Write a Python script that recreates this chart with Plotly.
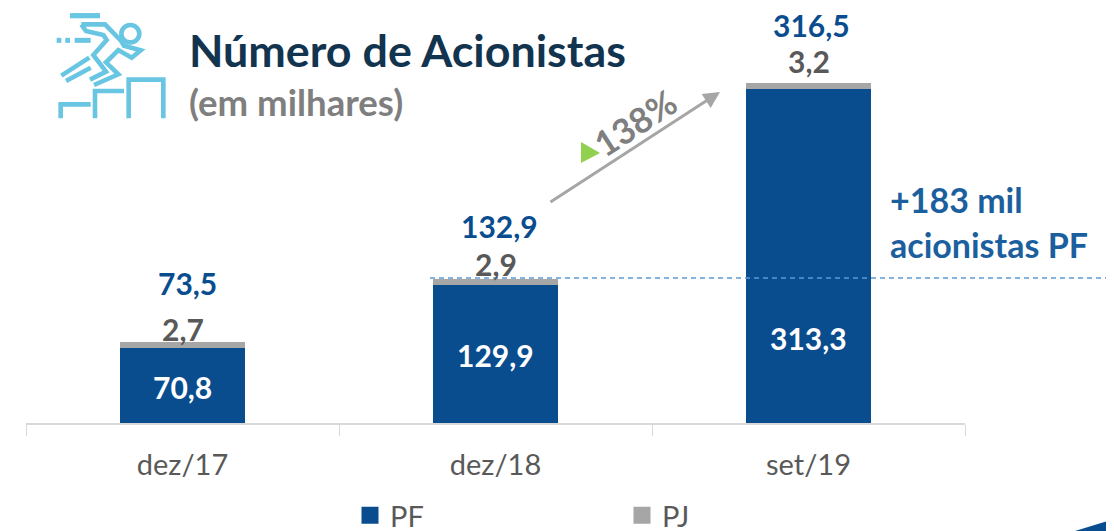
import plotly.graph_objects as go

# The page body keeps an 8px margin, so the figure is 8px smaller than the window on each side
# and every reference pixel position is converted with that offset.
PAGE_W, PAGE_H = 1114, 531
OFF = 8
W, H = PAGE_W - OFF, PAGE_H - OFF
FONT = "Lato"

categories = ["dez/17", "dez/18", "set/19"]
pf_values = [70.8, 129.9, 313.3]
pj_values = [2.7, 2.9, 3.2]
total_values = [73.5, 132.9, 316.5]
pf_labels = ["70,8", "129,9", "313,3"]
pj_labels = ["2,7", "2,9", "3,2"]
total_labels = ["73,5", "132,9", "316,5"]
# offsets of the data labels, in px from the bar top
pf_label_shift = [-42, -73, -252]
pj_label_shift = [16, 18, 25]
total_label_shift = [62, 56, 61]
total_label_xshift = [5, 4, 3]

BLUE = "#0A4D8F"
GRAY = "#A6A6A6"
DARK = "#595959"
ICON = "#68C6E3"


def px(x):
    return (x - OFF) / W


def py(y):
    return 1 - (y - OFF) / H


def path(points, close=False):
    s = "M" + " L".join(f"{px(x)},{py(y)}" for x, y in points)
    return s + (" Z" if close else "")


def icon_pt(zx, zy):
    return (50 + zx / 3, 5 + zy / 3)


def icon_line(zpts, width=4.6):
    return dict(type="path", xref="paper", yref="paper",
                path=path([icon_pt(*p) for p in zpts]),
                line=dict(color=ICON, width=width), fillcolor="rgba(0,0,0,0)", layer="above")


fig = go.Figure()
fig.add_bar(name="PF", x=categories, y=pf_values, marker=dict(color=BLUE, line=dict(width=0)),
            legendgroup="PF", showlegend=False)
fig.add_bar(name="PJ", x=categories, y=pj_values, marker=dict(color=GRAY, line=dict(width=0)),
            legendgroup="PJ", showlegend=False)
# zero-height entries that only carry the larger legend swatches
fig.add_bar(name="PF", x=categories, y=[0, 0, 0], legendgroup="PF",
            marker=dict(color=BLUE, line=dict(color=BLUE, width=5)))
fig.add_bar(name="PJ", x=categories, y=[0, 0, 0], legendgroup="PJ",
            marker=dict(color=GRAY, line=dict(color=GRAY, width=5)))

annotations = []


def label(x, y, text, shift, color, xshift=0):
    annotations.append(dict(x=x, y=y, xref="x", yref="y", text=f"<b>{text}</b>", showarrow=False,
                            yshift=shift, xshift=xshift, xanchor="center", yanchor="middle",
                            font=dict(family=FONT, size=30, color=color)))


for i, c in enumerate(categories):
    top = pf_values[i] + pj_values[i]
    label(c, top, pf_labels[i], pf_label_shift[i], "#FFFFFF")
    label(c, top, pj_labels[i], pj_label_shift[i], DARK)
    label(c, top, total_labels[i], total_label_shift[i], BLUE, total_label_xshift[i])


def text(x, y, s, size, color, anchor="left", angle=0):
    annotations.append(dict(x=px(x), y=py(y), xref="paper", yref="paper", text=s, showarrow=False,
                            xanchor=anchor, yanchor="middle", textangle=angle,
                            font=dict(family=FONT, size=size, color=color)))


text(187, 50, "<b>Número de Acionistas</b>", 44.8, "#12344F")
text(187, 102, "<b>(em milhares)</b>", 36.6, "#7F7F7F")
text(888, 199, "<b>+183 mil</b>", 34, "#1C5F9E")
text(888, 245, "<b>acionistas PF</b>", 34, "#1C5F9E")
text(635, 122, "<b>138%</b>", 35, "#7F7F7F", anchor="center", angle=-33)

annotations.append(dict(x=px(720), y=py(92), ax=-171, ay=111, xref="paper", yref="paper",
                        axref="pixel", ayref="pixel", text="", showarrow=True, arrowhead=2,
                        arrowsize=1.1, arrowwidth=3, arrowcolor=GRAY))

shapes = [
    dict(type="line", xref="paper", yref="paper", x0=px(430), x1=px(1108), y0=py(278), y1=py(278),
         line=dict(color="#5B9BD5", width=1.3, dash="5px,4px"), layer="above"),
    dict(type="path", xref="paper", yref="paper", path=path([(581, 142), (600, 153), (581, 163)], True),
         fillcolor="#92D050", line=dict(width=0)),
    dict(type="path", xref="paper", yref="paper", path=path([(1075, 531), (1114, 519), (1114, 531)], True),
         fillcolor=BLUE, line=dict(width=0)),
    icon_line([(60, 32), (150, 32)], 5.2),
    icon_line([(20, 106), (34, 106)], 5),
    icon_line([(46, 106), (60, 106)], 5),
    icon_line([(74, 106), (122, 106)], 5),
    # stairs
    icon_line([(32, 340), (32, 298), (122, 298)]),
    icon_line([(135, 340), (135, 258), (222, 258)]),
    icon_line([(236, 340), (236, 224), (340, 224), (340, 340)]),
    # head
    dict(type="circle", xref="paper", yref="paper", x0=px(icon_pt(214, 0)[0]), x1=px(icon_pt(268, 0)[0]),
         y0=py(icon_pt(0, 112)[1]), y1=py(icon_pt(0, 60)[1]), line=dict(color=ICON, width=4.6), layer="above"),
    # torso, arm and legs
    icon_line([(94, 58), (165, 58), (212, 106), (222, 122), (272, 136), (245, 158), (205, 135),
               (168, 172), (205, 208), (132, 240)]),
    icon_line([(94, 58), (108, 78), (160, 90), (170, 105), (130, 150), (168, 200), (120, 224)]),
    icon_line([(118, 158), (34, 212)]),
    icon_line([(122, 188), (48, 228)]),
]

fig.update_layout(
    width=W, height=H, autosize=False,
    margin=dict(l=0, r=0, t=0, b=0, autoexpand=False),
    paper_bgcolor="white", plot_bgcolor="white",
    barmode="stack", bargap=0.6,
    font=dict(family=FONT, color=DARK),
    xaxis=dict(domain=[px(26), px(965)], type="category", tickson="boundaries", ticks="outside",
               ticklen=11, tickwidth=1, tickcolor="#D9D9D9", showline=True, linecolor="#D9D9D9",
               linewidth=2, showgrid=False, zeroline=False, ticklabelstandoff=15,
               tickfont=dict(family=FONT, size=29, color=DARK)),
    yaxis=dict(domain=[py(423), 1], range=[0, (423 - OFF) / 1.065], visible=False, showgrid=False,
               zeroline=False),
    legend=dict(orientation="h", x=px(350), y=py(490), xanchor="left", yanchor="top",
                entrywidth=227, entrywidthmode="pixels", bgcolor="rgba(0,0,0,0)",
                font=dict(family=FONT, size=29, color=DARK), traceorder="normal"),
    annotations=annotations,
    shapes=shapes,
)

fig.write_html("out.html")
